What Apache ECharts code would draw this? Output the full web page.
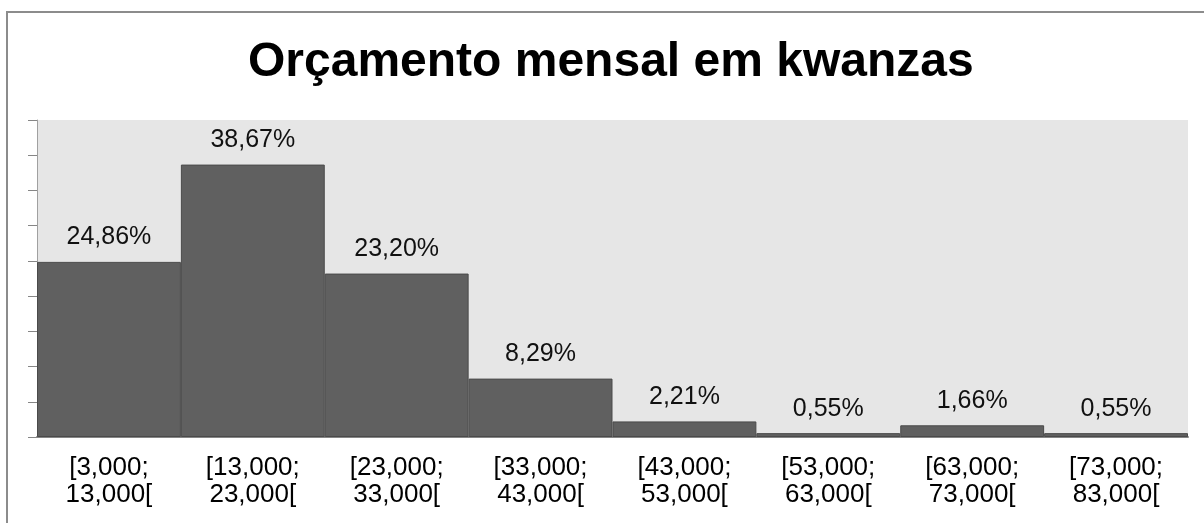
<!DOCTYPE html>
<html>
<head>
<meta charset="utf-8">
<script src="https://cdn.jsdelivr.net/npm/echarts@6/dist/echarts.min.js"></script>
<style>
  html, body { margin: 0; padding: 0; background: #fff; }
  #chart { width: 1204px; height: 523px; }
</style>
</head>
<body>
<div id="chart"></div>
<script>
// dados do histograma
var titulo = 'Orçamento mensal em kwanzas';
var classes = [
  '[3,000;\n13,000[', '[13,000;\n23,000[', '[23,000;\n33,000[', '[33,000;\n43,000[',
  '[43,000;\n53,000[', '[53,000;\n63,000[', '[63,000;\n73,000[', '[73,000;\n83,000['
];
var percentagens = [24.86, 38.67, 23.20, 8.29, 2.21, 0.55, 1.66, 0.55];

var chart = echarts.init(document.getElementById('chart'));
var option = {
  animation: false,
  textStyle: { fontFamily: 'Liberation Sans' },
  title: {
    text: titulo,
    left: 243,
    top: 34,
    textStyle: { fontFamily: 'Liberation Sans', fontWeight: 'bold', fontSize: 48, color: '#000' }
  },
  graphic: [{
    type: 'polyline',
    shape: { points: [[7, 523], [7, 12], [1204, 12]] },
    style: { stroke: '#8c8c8c', lineWidth: 2, fill: null }
  }],
  grid: {
    left: 37, right: 16, top: 120, bottom: 86,
    show: true, backgroundColor: '#e6e6e6', borderWidth: 0
  },
  xAxis: {
    type: 'category',
    data: classes,
    axisLine: { lineStyle: { color: '#868686', width: 2 } },
    axisTick: { show: false },
    axisLabel: { color: '#000', fontSize: 26, lineHeight: 27, margin: 17 }
  },
  yAxis: {
    type: 'value',
    min: 0, max: 45, interval: 5,
    axisLine: { show: true, lineStyle: { color: '#a0a0a0' } },
    axisTick: { show: true, length: 9, lineStyle: { color: '#868686' } },
    axisLabel: { show: false },
    splitLine: { show: false }
  },
  series: [{
    type: 'bar',
    data: percentagens,
    barCategoryGap: 0,
    itemStyle: { color: '#606060', borderColor: '#4a4a4a', borderWidth: 1 },
    label: {
      show: true,
      position: 'top',
      distance: 12,
      fontSize: 25,
      color: '#111',
      formatter: function (p) { return p.value.toFixed(2).replace('.', ',') + '%'; }
    }
  }]
};
chart.setOption(option);
</script>
</body>
</html>
